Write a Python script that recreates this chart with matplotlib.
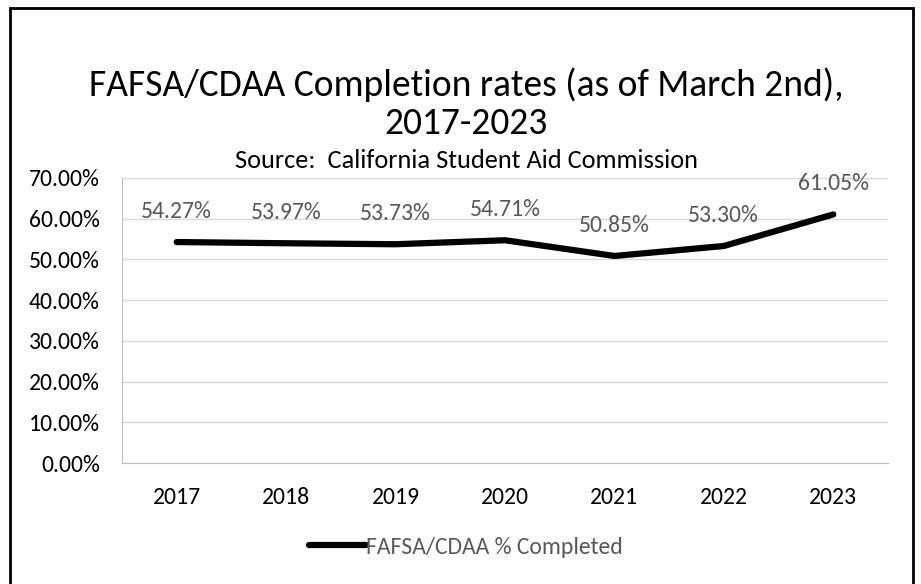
import matplotlib
matplotlib.use("Agg")
import matplotlib.pyplot as plt
from matplotlib.patches import Rectangle
from matplotlib.ticker import FuncFormatter

plt.rcParams['font.family'] = ['Carlito', 'Liberation Sans', 'DejaVu Sans']

years = ["2017", "2018", "2019", "2020", "2021", "2022", "2023"]
rates = [54.27, 53.97, 53.73, 54.71, 50.85, 53.30, 61.05]
yticks = [0, 10, 20, 30, 40, 50, 60, 70]

W, H = 921, 584
fig = plt.figure(figsize=(W / 100, H / 100), dpi=100)
ax = fig.add_axes([122 / W, 1 - 463 / H, (888 - 122) / W, (463 - 178) / H])

x = list(range(len(years)))
ax.plot(x, rates, color="black", lw=4.5, solid_capstyle="round",
        solid_joinstyle="round", label="FAFSA/CDAA % Completed", zorder=3)
for xi, v in zip(x, rates):
    ax.annotate(f"{v:.2f}%", (xi, v), xytext=(0, 22), textcoords="offset points",
                ha="center", va="center", fontsize=17, color="#595959")

ax.set_xlim(-0.5, len(years) - 0.5)
ax.set_ylim(0, 70)
ax.set_yticks(yticks)
ax.yaxis.set_major_formatter(FuncFormatter(lambda v, p: f"{v:.2f}%"))
ax.set_xticks(x)
ax.set_xticklabels(years)
ax.tick_params(axis="both", length=0, labelsize=17, colors="black")
ax.tick_params(axis="x", pad=17)
ax.tick_params(axis="y", pad=16)
ax.grid(axis="y", color="#d9d9d9", lw=1)
ax.set_axisbelow(True)
for s in ["top", "right"]:
    ax.spines[s].set_visible(False)
for s in ["left", "bottom"]:
    ax.spines[s].set_color("#bfbfbf")

fig.text(466 / W, 1 - 85 / H, "FAFSA/CDAA Completion rates (as of March 2nd),",
         ha="center", va="center", fontsize=27)
fig.text(466 / W, 1 - 123 / H, "2017-2023", ha="center", va="center", fontsize=27)
fig.text(466 / W, 1 - 161 / H, "Source:  California Student Aid Commission",
         ha="center", va="center", fontsize=19)

fig.legend(loc="center", bbox_to_anchor=(466 / W, 1 - 547 / H), frameon=False,
           fontsize=17, handlelength=2.4, handletextpad=0.0, labelcolor="#595959")

fig.patches.append(Rectangle((10 / W, -0.05), 903 / W, 1 - 8 / H + 0.05,
                             transform=fig.transFigure, fill=False,
                             edgecolor="black", lw=2))

fig.savefig("out.png", dpi=100)
